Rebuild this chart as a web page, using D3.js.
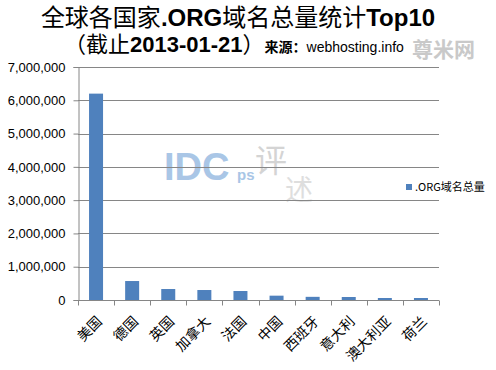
<!DOCTYPE html>
<html>
<head>
<meta charset="utf-8">
<script src="https://cdn.jsdelivr.net/npm/d3@7"></script>
<style>
  body { margin: 0; background: #fff; }
  svg { display: block; }
</style>
</head>
<body>
<svg id="chart" width="496" height="370"></svg>
<script>
// chart data
const countries = ["美国", "德国", "英国", "加拿大", "法国", "中国", "西班牙", "意大利", "澳大利亚", "荷兰"];
const domains = [6200000, 570000, 330000, 300000, 270000, 130000, 95000, 90000, 60000, 60000];
const yTicks = [0, 1000000, 2000000, 3000000, 4000000, 5000000, 6000000, 7000000];
const seriesName = ".ORG域名总量";

const svg = d3.select("#chart");
const plotLeft = 78, plotRight = 439, plotTop = 67, plotBottom = 300;
const cjk = "'Liberation Sans', Arial, 'Noto Sans CJK SC', sans-serif";

const x = d3.scaleBand().domain(countries).range([plotLeft, plotRight]);
const y = d3.scaleLinear().domain([0, 7000000]).range([plotBottom, plotTop]);

// watermarks
svg.append("text").attr("x", 164).attr("y", 180)
    .style("font", "bold 38px 'Liberation Sans', Arial, sans-serif")
    .attr("fill", "#a9c6e6").text("IDC");
svg.append("text").attr("x", 237).attr("y", 180)
    .style("font", "bold 15px 'Liberation Sans', Arial, sans-serif")
    .attr("fill", "#a9c6e6").text("ps");
svg.append("text").attr("x", 255).attr("y", 172)
    .style("font", "32px 'Noto Sans CJK SC', sans-serif")
    .attr("fill", "#d4d4d4").text("评");
svg.append("text").attr("x", 285).attr("y", 200)
    .style("font", "28px 'Noto Sans CJK SC', sans-serif")
    .attr("fill", "#dedede").text("述");
svg.append("text").attr("x", 412).attr("y", 57)
    .style("font", "bold 21px 'Noto Sans CJK SC', sans-serif")
    .attr("fill", "#c9c9c9").text("尊米网");

// gridlines
svg.append("g").selectAll("line").data(yTicks.slice(1)).join("line")
    .attr("x1", plotLeft).attr("x2", plotRight)
    .attr("y1", d => Math.round(y(d)) + 0.5).attr("y2", d => Math.round(y(d)) + 0.5)
    .attr("stroke", "#868686");

// y axis
const yAxis = svg.append("g").attr("transform", `translate(${plotLeft + 0.5},0)`)
    .call(d3.axisLeft(y).tickValues(yTicks).tickSize(5).tickPadding(8).tickFormat(d3.format(",")));
yAxis.selectAll("path, line").attr("stroke", "#868686");
yAxis.selectAll("text").style("font", "13px 'Liberation Sans', Arial, sans-serif").attr("fill", "#000");

// bars
svg.append("g").selectAll("rect").data(countries).join("rect")
    .attr("x", d => x(d) + x.bandwidth() / 2 - 7)
    .attr("width", 14)
    .attr("y", (d, i) => y(domains[i]))
    .attr("height", (d, i) => plotBottom - y(domains[i]))
    .attr("fill", "#4f81bd");

// x axis
const xAxis = svg.append("g").attr("transform", `translate(0,${plotBottom + 0.5})`);
xAxis.append("line").attr("x1", plotLeft).attr("x2", plotRight).attr("stroke", "#868686");
xAxis.selectAll(".tk").data(d3.range(countries.length + 1)).join("line")
    .attr("x1", i => Math.round(plotLeft + i * x.step()) + 0.5)
    .attr("x2", i => Math.round(plotLeft + i * x.step()) + 0.5)
    .attr("y1", 0).attr("y2", 5).attr("stroke", "#868686");
xAxis.selectAll("text").data(countries).join("text")
    .attr("transform", d => `translate(${x(d) + x.bandwidth() / 2},15) rotate(-45)`)
    .attr("text-anchor", "end").attr("dy", "0.7em")
    .style("font", "14px 'Noto Sans CJK SC', serif")
    .attr("fill", "#000").text(d => d);

// legend
svg.append("rect").attr("x", 406).attr("y", 184).attr("width", 6).attr("height", 6).attr("fill", "#4f81bd");
svg.append("text").attr("x", 415).attr("y", 191)
    .style("font", "11px 'Noto Sans CJK SC', sans-serif").attr("fill", "#000").text(seriesName);

// title
const title = svg.append("text").attr("x", 238).attr("y", 26).attr("text-anchor", "middle")
    .style("font-family", cjk).style("font-size", "24px").attr("fill", "#000");
title.append("tspan").text("全球各国家");
title.append("tspan").style("font-weight", "bold").text(".ORG");
title.append("tspan").text("域名总量统计");
title.append("tspan").style("font-weight", "bold").text("Top10");

const sub = svg.append("text").attr("x", 64).attr("y", 52)
    .style("font-family", cjk).attr("fill", "#000");
sub.append("tspan").style("font-size", "22px").text("（截止");
sub.append("tspan").style("font-size", "22px").style("font-weight", "bold").text("2013-01-21");
sub.append("tspan").style("font-size", "22px").text("）");
sub.append("tspan").attr("dx", 0).style("font-size", "14px").style("font-weight", "bold").text("来源：");
sub.append("tspan").style("font-size", "14px").text("webhosting.info");
</script>
</body>
</html>
